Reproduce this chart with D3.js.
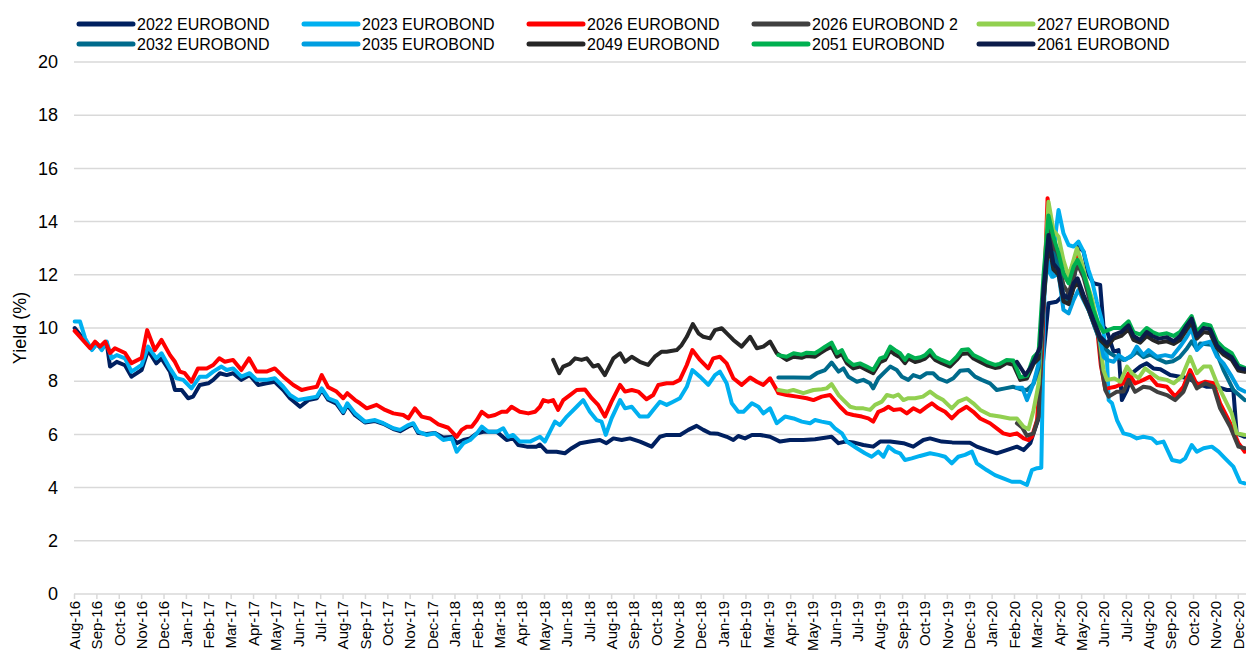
<!DOCTYPE html>
<html>
<head>
<meta charset="utf-8">
<script src="https://cdn.jsdelivr.net/npm/d3@7"></script>
<style>
body { margin: 0; background: #fff; font-family: "Liberation Sans", Arial, sans-serif; }
</style>
</head>
<body>
<div id="chart"></div>
<script>
let width = 1246
let height = 652

// month labels on the x axis (index 0 = Aug-16)
let monthLabels = ['Aug-16','Sep-16','Oct-16','Nov-16','Dec-16',
	'Jan-17','Feb-17','Mar-17','Apr-17','May-17','Jun-17','Jul-17','Aug-17','Sep-17','Oct-17','Nov-17','Dec-17',
	'Jan-18','Feb-18','Mar-18','Apr-18','May-18','Jun-18','Jul-18','Aug-18','Sep-18','Oct-18','Nov-18','Dec-18',
	'Jan-19','Feb-19','Mar-19','Apr-19','May-19','Jun-19','Jul-19','Aug-19','Sep-19','Oct-19','Nov-19','Dec-19',
	'Jan-20','Feb-20','Mar-20','Apr-20','May-20','Jun-20','Jul-20','Aug-20','Sep-20','Oct-20','Nov-20','Dec-20']

let yTicks = [0,2,4,6,8,10,12,14,16,18,20]

let seriesNames = ['2022 EUROBOND','2023 EUROBOND','2026 EUROBOND','2026 EUROBOND 2','2027 EUROBOND',
	'2032 EUROBOND','2035 EUROBOND','2049 EUROBOND','2051 EUROBOND','2061 EUROBOND']

// each point: [months since 1 Aug 2016, yield %]
let bond2022 = [[0.03,10.0],[0.5,9.5],[0.8,9.2],[1.02,9.4],[1.24,9.2],[1.46,9.45],[1.61,8.55],[1.91,8.73],[2.28,8.6],[2.57,8.17],[3.02,8.42],[3.31,9.17],[3.68,8.67],[3.91,8.86],[4.29,8.36],[4.51,7.67],[4.81,7.67],[5.1,7.36],[5.32,7.42],[5.62,7.86],[6.0,7.92],[6.22,8.05],[6.52,8.3],[6.82,8.23],[7.11,8.3],[7.48,8.05],[7.85,8.23],[8.23,7.86],[8.6,7.92],[8.97,7.98],[9.35,7.67],[9.65,7.36],[10.1,7.04],[10.47,7.29],[10.85,7.36],[11.07,7.67],[11.36,7.3],[11.73,7.15],[12.03,6.8],[12.21,7.1],[12.56,6.72],[13.0,6.45],[13.45,6.5],[13.82,6.4],[14.27,6.2],[14.57,6.12],[14.94,6.3],[15.16,6.38],[15.38,6.05],[15.75,6.02],[16.13,6.05],[16.5,5.88],[16.88,5.9],[17.1,5.67],[17.4,5.79],[17.7,5.85],[18.0,6.04],[18.29,6.1],[18.89,6.1],[19.33,5.79],[19.62,5.85],[19.85,5.6],[20.23,5.54],[20.67,5.54],[20.82,5.62],[21.12,5.35],[21.56,5.35],[21.93,5.29],[22.24,5.48],[22.61,5.67],[23.05,5.73],[23.5,5.79],[23.79,5.67],[24.1,5.85],[24.47,5.79],[24.84,5.85],[25.29,5.73],[25.81,5.54],[26.18,5.91],[26.48,5.98],[27.08,5.98],[27.45,6.17],[27.82,6.32],[28.12,6.17],[28.42,6.04],[28.78,6.02],[29.17,5.91],[29.46,5.79],[29.68,5.94],[29.98,5.85],[30.29,5.98],[30.66,5.98],[31.1,5.91],[31.55,5.73],[31.99,5.79],[32.59,5.79],[33.11,5.82],[33.85,5.91],[34.16,5.67],[34.46,5.73],[34.82,5.7],[35.27,5.6],[35.71,5.54],[36.02,5.73],[36.47,5.73],[37.06,5.67],[37.5,5.54],[37.95,5.79],[38.25,5.85],[38.77,5.73],[39.24,5.7],[40.03,5.69],[40.34,5.54],[40.78,5.41],[41.23,5.29],[41.67,5.41],[42.13,5.54],[42.43,5.41],[42.73,5.67],[42.87,6.04],[43.1,6.6],[43.32,9.0],[43.54,10.93],[43.91,10.99],[44.14,11.18],[44.59,11.3],[44.88,13.06],[45.11,12.87],[45.33,12.0],[45.55,11.68],[45.85,11.62],[46.0,10.05],[46.15,9.9],[46.45,9.11],[46.67,9.17],[46.82,7.29],[47.05,7.67],[47.27,8.3],[47.64,8.55],[47.93,8.67],[48.23,8.48],[48.54,8.45],[48.98,8.23],[49.42,8.17],[49.79,8.11],[50.17,7.92],[50.62,7.79],[51.07,7.79],[51.51,7.67],[51.8,7.67],[51.95,6.04],[52.31,5.91]]

let bond2023 = [[0.03,10.24],[0.27,10.24],[0.5,9.61],[0.8,9.17],[1.02,9.42],[1.24,9.17],[1.46,9.49],[1.68,8.86],[1.91,8.98],[2.28,8.86],[2.57,8.36],[3.02,8.61],[3.31,9.3],[3.68,8.86],[3.91,9.05],[4.29,8.48],[4.58,8.11],[4.88,8.05],[5.25,7.73],[5.62,8.17],[5.93,8.17],[6.22,8.36],[6.59,8.55],[6.82,8.42],[7.11,8.48],[7.48,8.17],[7.85,8.3],[8.16,8.05],[8.6,8.05],[8.97,8.11],[9.35,7.79],[9.65,7.48],[10.02,7.29],[10.47,7.36],[10.85,7.42],[11.07,7.73],[11.36,7.36],[11.73,7.23],[12.03,6.85],[12.21,7.17],[12.56,6.79],[13.0,6.48],[13.45,6.54],[13.82,6.42],[14.27,6.23],[14.57,6.17],[14.94,6.35],[15.16,6.42],[15.38,6.1],[15.75,5.98],[16.13,6.04],[16.5,5.79],[16.88,5.85],[17.1,5.35],[17.4,5.67],[17.7,5.79],[18.0,6.04],[18.22,6.29],[18.51,6.1],[18.89,6.1],[19.18,6.23],[19.4,5.91],[19.62,5.98],[19.92,5.73],[20.38,5.73],[20.82,5.91],[21.04,5.73],[21.49,6.48],[21.71,6.35],[22.02,6.67],[22.46,7.04],[22.75,7.29],[23.05,6.85],[23.35,6.54],[23.57,6.48],[23.76,5.98],[24.02,6.6],[24.4,7.29],[24.62,6.98],[24.92,7.04],[25.28,6.67],[25.65,6.67],[25.88,6.92],[26.18,7.23],[26.48,7.11],[26.77,7.23],[27.07,7.36],[27.38,7.79],[27.63,8.42],[27.97,8.17],[28.34,7.86],[28.64,8.23],[28.86,8.36],[29.16,7.92],[29.39,7.17],[29.68,6.85],[29.91,6.85],[30.29,7.17],[30.58,7.04],[30.8,6.79],[31.1,6.98],[31.4,6.42],[31.77,6.67],[32.15,6.6],[32.52,6.48],[32.89,6.42],[33.11,6.54],[33.41,6.48],[33.78,6.42],[34.0,6.23],[34.31,6.04],[34.53,5.73],[34.98,5.48],[35.34,5.29],[35.64,5.16],[35.94,5.35],[36.17,5.16],[36.39,5.54],[36.69,5.35],[36.91,5.29],[37.13,5.04],[37.43,5.1],[37.8,5.19],[38.25,5.29],[38.62,5.23],[38.92,5.16],[39.22,4.91],[39.51,5.16],[39.81,5.23],[40.12,5.35],[40.34,4.91],[40.78,4.66],[41.15,4.47],[41.52,4.35],[41.9,4.22],[42.28,4.22],[42.58,4.1],[42.8,4.66],[43.03,4.73],[43.22,4.75],[43.37,11.8],[43.47,12.3],[43.69,11.93],[43.84,13.43],[43.99,14.44],[44.21,13.56],[44.44,13.12],[44.66,13.06],[44.88,13.25],[45.11,12.87],[45.33,12.18],[45.48,11.8],[45.7,10.99],[45.92,10.3],[46.15,8.92],[46.23,7.29],[46.38,7.17],[46.6,6.54],[46.89,6.04],[47.19,5.98],[47.49,5.85],[47.78,5.91],[48.16,5.85],[48.39,5.67],[48.68,5.73],[49.06,5.04],[49.42,4.97],[49.65,5.1],[49.94,5.6],[50.17,5.35],[50.47,5.48],[50.84,5.54],[51.14,5.35],[51.43,5.1],[51.8,4.79],[52.1,4.22],[52.31,4.16]]

let bond2026 = [[0.03,9.89],[0.72,9.24],[0.94,9.49],[1.16,9.3],[1.39,9.49],[1.61,9.06],[1.83,9.24],[2.28,9.06],[2.57,8.68],[3.02,8.87],[3.27,9.92],[3.61,9.17],[3.91,9.55],[4.29,8.98],[4.51,8.73],[4.73,8.36],[4.95,8.3],[5.25,7.98],[5.54,8.48],[5.93,8.48],[6.22,8.61],[6.49,8.86],[6.74,8.73],[7.11,8.8],[7.48,8.42],[7.82,8.86],[8.16,8.36],[8.6,8.36],[8.97,8.48],[9.35,8.17],[9.8,7.86],[10.17,7.67],[10.47,7.73],[10.85,7.79],[11.07,8.23],[11.36,7.77],[11.73,7.61],[12.03,7.36],[12.21,7.55],[12.56,7.29],[12.78,7.17],[13.08,6.98],[13.52,7.11],[13.9,6.92],[14.27,6.79],[14.71,6.73],[14.94,6.6],[15.23,6.98],[15.53,6.67],[15.9,6.6],[16.28,6.38],[16.72,6.25],[17.1,5.91],[17.32,6.17],[17.55,6.29],[17.77,6.29],[18.0,6.54],[18.22,6.85],[18.51,6.67],[18.81,6.73],[19.11,6.85],[19.33,6.85],[19.55,7.04],[19.92,6.85],[20.3,6.79],[20.6,6.85],[20.82,7.04],[20.97,7.29],[21.19,7.23],[21.41,7.29],[21.63,6.92],[21.86,7.29],[22.16,7.48],[22.46,7.67],[22.83,7.69],[23.13,7.36],[23.42,7.11],[23.72,6.67],[24.02,7.23],[24.4,7.86],[24.62,7.61],[24.92,7.67],[25.21,7.61],[25.58,7.32],[25.88,7.48],[26.11,7.86],[26.48,7.92],[26.77,7.92],[27.07,8.05],[27.38,8.61],[27.63,9.17],[27.97,8.8],[28.34,8.48],[28.56,8.86],[28.86,8.92],[29.16,8.67],[29.46,8.11],[29.83,7.86],[30.21,8.14],[30.51,7.98],[30.8,7.86],[31.1,8.11],[31.4,7.67],[31.47,7.55],[31.84,7.48],[32.3,7.42],[32.74,7.36],[33.04,7.29],[33.41,7.42],[33.78,7.48],[34.23,7.04],[34.53,6.79],[34.82,6.73],[35.2,6.67],[35.49,6.6],[35.71,6.48],[35.94,6.85],[36.16,6.92],[36.39,7.04],[36.61,6.92],[36.93,6.95],[37.21,6.79],[37.5,6.98],[37.8,6.85],[38.11,7.04],[38.33,7.17],[38.62,6.98],[38.92,6.85],[39.22,6.6],[39.51,6.85],[39.88,7.04],[40.18,6.85],[40.49,6.6],[40.93,6.42],[41.23,6.23],[41.52,6.04],[41.82,5.98],[42.13,6.04],[42.43,5.85],[42.65,5.79],[42.8,5.91],[43.03,6.54],[43.25,9.05],[43.5,14.88],[43.69,13.43],[43.91,12.93],[44.14,12.18],[44.37,11.8],[44.59,12.3],[44.81,12.81],[45.04,12.3],[45.26,11.55],[45.48,10.93],[45.7,10.1],[45.88,8.6],[46.08,7.7],[46.28,7.75],[46.53,7.79],[46.89,7.92],[47.12,8.3],[47.41,7.92],[47.78,8.05],[48.08,8.17],[48.39,7.86],[48.83,7.79],[49.2,7.42],[49.57,7.79],[49.87,8.42],[50.17,7.86],[50.55,7.98],[50.91,7.92],[51.21,7.17],[51.66,6.42],[52.03,5.67],[52.31,5.35]]

let bond2026b = [[42.13,6.42],[42.37,6.25],[42.58,5.95],[42.87,6.04],[43.1,6.67],[43.32,11.0],[43.54,14.0],[43.76,13.0],[43.99,12.5],[44.21,11.6],[44.44,11.3],[44.66,11.9],[44.84,12.4],[45.11,11.9],[45.33,11.2],[45.55,10.6],[45.77,9.8],[45.92,8.5],[46.08,7.67],[46.23,7.42],[46.59,7.6],[46.89,7.61],[47.12,8.05],[47.41,7.6],[47.78,7.79],[48.08,7.75],[48.39,7.6],[48.83,7.48],[49.2,7.29],[49.57,7.6],[49.87,8.23],[50.17,7.73],[50.55,7.92],[50.91,7.8],[51.21,6.98],[51.66,6.29],[52.03,5.54],[52.31,5.48]]

let bond2027 = [[31.47,7.67],[31.84,7.61],[32.14,7.67],[32.59,7.55],[33.04,7.67],[33.41,7.7],[33.63,7.73],[33.85,7.89],[34.16,7.48],[34.38,7.29],[34.68,7.04],[34.98,6.98],[35.27,6.98],[35.57,6.92],[35.79,7.11],[36.1,7.23],[36.32,7.48],[36.61,7.42],[36.83,7.5],[37.06,7.29],[37.28,7.36],[37.58,7.36],[37.93,7.42],[38.25,7.61],[38.55,7.42],[38.84,7.29],[39.22,6.98],[39.51,7.23],[39.88,7.36],[40.18,7.17],[40.49,6.92],[40.93,6.73],[41.37,6.67],[41.82,6.6],[42.13,6.6],[42.43,6.29],[42.65,6.2],[42.87,6.9],[43.1,7.9],[43.32,11.5],[43.54,14.75],[43.76,13.68],[43.99,13.43],[44.21,12.55],[44.44,11.93],[44.66,12.55],[44.81,13.0],[45.04,12.43],[45.26,11.68],[45.48,11.12],[45.7,10.3],[45.85,9.42],[46.0,8.42],[46.15,8.05],[46.49,8.1],[46.75,7.98],[47.05,8.55],[47.27,8.3],[47.56,8.11],[47.86,8.48],[48.14,8.3],[48.46,8.11],[48.83,8.05],[49.13,7.92],[49.5,8.17],[49.87,8.92],[50.17,8.3],[50.47,8.55],[50.77,8.55],[51.07,7.92],[51.36,7.42],[51.73,6.79],[51.95,6.04],[52.31,5.98]]

let bond2032 = [[31.47,8.14],[32.15,8.14],[32.89,8.13],[33.19,8.3],[33.56,8.42],[33.85,8.7],[34.16,8.36],[34.38,8.48],[34.6,8.17],[34.98,7.98],[35.27,8.05],[35.57,7.92],[35.71,7.73],[35.94,8.11],[36.24,8.36],[36.47,8.55],[36.76,8.42],[36.99,8.17],[37.28,8.05],[37.5,8.23],[37.8,8.14],[38.1,8.3],[38.39,8.3],[38.62,8.11],[39.0,7.98],[39.29,8.11],[39.59,8.39],[39.96,8.42],[40.26,8.17],[40.56,8.05],[40.93,7.92],[41.23,7.67],[41.6,7.73],[41.97,7.79],[42.28,7.7],[42.58,7.67],[42.87,7.9],[43.1,8.5],[43.32,11.0],[43.54,12.93],[43.76,12.81],[43.99,12.3],[44.21,11.18],[44.44,10.99],[44.66,11.55],[44.84,11.8],[45.11,11.18],[45.33,10.68],[45.55,10.18],[45.77,9.67],[46.0,9.3],[46.29,9.05],[46.59,8.9],[46.89,8.8],[47.19,8.9],[47.49,9.1],[47.79,8.9],[48.09,9.0],[48.4,8.85],[48.8,8.7],[49.1,8.75],[49.4,8.9],[49.7,9.2],[49.94,9.5],[50.17,9.2],[50.32,9.42],[50.91,9.36],[51.36,8.42],[51.8,7.67],[52.31,7.29]]

let bond2035 = [[42.13,7.75],[42.37,7.75],[42.58,7.29],[42.87,7.92],[43.1,8.67],[43.32,11.55],[43.54,12.49],[43.76,11.93],[43.99,12.05],[44.21,10.68],[44.44,10.55],[44.66,11.05],[44.88,11.43],[45.18,10.93],[45.38,10.6],[45.63,9.99],[45.85,9.55],[46.0,8.92],[46.15,8.8],[46.45,8.73],[46.67,8.98],[46.97,8.8],[47.27,8.98],[47.49,9.3],[47.78,8.98],[48.01,9.17],[48.39,8.92],[48.76,8.98],[49.06,8.92],[49.42,9.3],[49.72,9.67],[49.94,9.99],[50.17,9.17],[50.47,9.42],[50.77,9.49],[51.07,8.92],[51.36,8.67],[51.73,8.17],[52.03,7.73],[52.31,7.61]]

let bond2049 = [[21.41,8.8],[21.68,8.3],[21.86,8.55],[22.15,8.65],[22.39,8.86],[22.68,8.8],[22.91,8.86],[23.2,8.55],[23.42,8.61],[23.72,8.23],[24.1,8.86],[24.4,9.05],[24.62,8.73],[24.92,8.92],[25.28,8.73],[25.65,8.61],[25.95,8.92],[26.26,9.11],[26.48,9.11],[26.93,9.17],[27.15,9.36],[27.38,9.67],[27.65,10.15],[27.9,9.8],[28.12,9.67],[28.42,9.61],[28.64,9.92],[28.94,9.99],[29.17,9.8],[29.46,9.55],[29.83,9.3],[30.21,9.67],[30.51,9.24],[30.8,9.3],[31.1,9.49],[31.4,9.05],[31.84,8.8],[32.15,8.92],[32.51,8.88],[32.74,8.95],[33.11,8.92],[33.33,9.05],[33.56,9.17],[33.85,9.3],[34.09,8.92],[34.31,9.02],[34.53,8.68],[34.82,8.48],[35.12,8.55],[35.42,8.42],[35.71,8.3],[36.02,8.72],[36.24,8.8],[36.47,9.15],[36.69,9.0],[36.91,8.9],[37.13,8.68],[37.28,8.85],[37.58,8.72],[37.83,8.78],[38.03,8.85],[38.25,9.02],[38.48,8.8],[38.77,8.68],[39.14,8.55],[39.44,8.8],[39.66,9.02],[39.96,9.05],[40.19,8.85],[40.49,8.72],[40.78,8.6],[41.15,8.5],[41.35,8.52],[41.67,8.68],[41.97,8.62],[42.28,8.05],[42.58,8.1],[42.87,8.65],[43.1,8.85],[43.32,11.0],[43.54,13.25],[43.76,12.2],[43.99,12.0],[44.21,11.0],[44.44,10.9],[44.66,11.5],[44.84,11.75],[45.11,11.1],[45.33,10.7],[45.55,10.2],[45.85,9.55],[46.15,9.3],[46.45,9.6],[46.79,9.7],[47.12,9.95],[47.34,9.55],[47.64,9.45],[47.93,9.7],[48.19,9.55],[48.46,9.45],[48.83,9.5],[49.13,9.4],[49.42,9.55],[49.72,9.95],[49.94,10.2],[50.17,9.6],[50.47,9.85],[50.77,9.8],[51.07,9.25],[51.36,9.0],[51.73,8.8],[52.03,8.4],[52.31,8.35]]

let bond2051 = [[31.47,8.98],[31.84,8.92],[32.15,9.05],[32.51,9.0],[32.74,9.07],[33.11,9.05],[33.33,9.17],[33.56,9.3],[33.85,9.45],[34.09,9.05],[34.31,9.17],[34.53,8.8],[34.82,8.61],[35.12,8.67],[35.42,8.55],[35.71,8.42],[36.02,8.86],[36.24,8.92],[36.47,9.3],[36.69,9.17],[36.91,9.05],[37.13,8.8],[37.28,8.98],[37.58,8.86],[37.83,8.9],[38.03,8.98],[38.25,9.17],[38.48,8.92],[38.77,8.8],[39.14,8.67],[39.44,8.92],[39.66,9.17],[39.96,9.2],[40.19,8.98],[40.49,8.86],[40.78,8.73],[41.15,8.61],[41.35,8.65],[41.67,8.8],[41.97,8.78],[42.28,8.15],[42.58,8.2],[42.87,8.9],[43.1,9.1],[43.32,12.0],[43.54,14.23],[43.76,13.43],[43.99,12.81],[44.21,12.05],[44.44,11.68],[44.66,12.3],[44.84,12.56],[45.11,12.05],[45.33,11.43],[45.55,10.68],[45.77,10.18],[46.0,9.85],[46.15,9.9],[46.45,10.0],[46.79,10.0],[47.12,10.25],[47.34,9.85],[47.64,9.75],[47.93,10.0],[48.19,9.85],[48.46,9.75],[48.83,9.8],[49.13,9.7],[49.42,9.85],[49.72,10.2],[49.94,10.45],[50.17,9.85],[50.47,10.15],[50.77,10.1],[51.07,9.5],[51.36,9.25],[51.73,9.05],[52.03,8.6],[52.31,8.5]]

let bond2061 = [[42.13,8.73],[42.51,8.23],[42.73,8.5],[42.97,8.9],[43.17,9.3],[43.32,11.5],[43.54,13.5],[43.76,12.43],[43.99,12.18],[44.21,11.18],[44.44,11.12],[44.66,11.68],[44.84,11.87],[45.11,11.24],[45.33,10.8],[45.55,10.3],[45.85,9.67],[46.15,9.42],[46.45,9.74],[46.79,9.85],[47.12,10.1],[47.34,9.7],[47.64,9.55],[47.93,9.85],[48.19,9.7],[48.46,9.6],[48.83,9.65],[49.13,9.5],[49.42,9.7],[49.72,10.1],[49.94,10.35],[50.17,9.7],[50.47,10.0],[50.77,9.95],[51.07,9.35],[51.36,9.1],[51.73,8.9],[52.03,8.5],[52.31,8.45]]

let seriesData = [bond2022, bond2023, bond2026, bond2026b, bond2027, bond2032, bond2035, bond2049, bond2051, bond2061]

let colorScale = d3.scaleOrdinal()
	.domain(seriesNames)
	.range(['#002060','#00b0f0','#ff0000','#404040','#92d050','#006b8c','#009ee0','#262626','#00b050','#0c1c4a'])

let margins = {
	'top': 62,
	'left': 74,
	'bottom': 58,
}

let xScale = d3.scaleLinear()
	.domain([0, 52])
	.range([margins.left, 1237.8])

let yScale = d3.scaleLinear()
	.domain([0, 20])
	.range([height - margins.bottom, margins.top])

let svg = d3.select('#chart').append('svg')
	.attr('width', width)
	.attr('height', height)
	.style('font-family', '"Liberation Sans", Arial, sans-serif')

// gridlines
svg.append('g')
	.selectAll('line')
	.data(yTicks.filter(d => d > 0))
	.enter().append('line')
	.attr('x1', margins.left)
	.attr('x2', width)
	.attr('y1', d => yScale(d))
	.attr('y2', d => yScale(d))
	.attr('stroke', '#d9d9d9')
	.attr('stroke-width', 1.5)

// y axis labels
let yAxis = d3.axisLeft(yScale)
	.tickValues(yTicks)
	.tickSize(0)
	.tickPadding(16)

let yG = svg.append('g')
	.attr('transform', `translate(${margins.left},0)`)
	.call(yAxis)
yG.select('.domain').remove()
yG.selectAll('text')
	.style('font-size', '18px')
	.attr('fill', '#000')

svg.append('text')
	.attr('transform', `translate(20,${yScale(10)}) rotate(-90)`)
	.attr('text-anchor', 'middle')
	.attr('dy', '0.35em')
	.style('font-size', '18px')
	.text('Yield (%)')

// x axis
let xAxis = d3.axisBottom(xScale)
	.tickValues(d3.range(monthLabels.length))
	.tickFormat(i => monthLabels[i])
	.tickSize(5)
	.tickSizeOuter(0)

let xG = svg.append('g')
	.attr('transform', `translate(0,${yScale(0)})`)
	.call(xAxis)
xG.select('.domain')
	.attr('stroke', '#d9d9d9')
	.attr('stroke-width', 1.5)
	.attr('d', `M${margins.left},0H${width}`)
xG.selectAll('.tick line')
	.attr('stroke', '#d9d9d9')
	.attr('stroke-width', 1.5)
xG.selectAll('text')
	.attr('transform', 'rotate(-90)')
	.attr('x', -7)
	.attr('y', 0)
	.attr('dy', '0.35em')
	.style('text-anchor', 'end')
	.style('font-size', '15px')
	.attr('fill', '#000')

// lines
let line = d3.line()
	.x(d => xScale(d[0]))
	.y(d => yScale(d[1]))

let marks = svg.append('g')
marks.selectAll('path')
	.data(seriesData)
	.enter().append('path')
	.attr('d', d => line(d))
	.attr('fill', 'none')
	.attr('stroke', (d, i) => colorScale(seriesNames[i]))
	.attr('stroke-width', 4)
	.attr('stroke-linejoin', 'round')
	.attr('stroke-linecap', 'round')

// legend
let legend = svg.append('g')
let items = legend.selectAll('g')
	.data(seriesNames)
	.enter().append('g')
	.attr('transform', (d, i) => `translate(${79 + (i % 5) * 225},${24 + Math.floor(i / 5) * 20})`)

items.append('line')
	.attr('x1', 0)
	.attr('x2', 54)
	.attr('stroke', d => colorScale(d))
	.attr('stroke-width', 5)
	.attr('stroke-linecap', 'round')

items.append('text')
	.attr('x', 58)
	.attr('dy', '0.35em')
	.style('font-size', '16px')
	.text(d => d)
</script>
</body>
</html>
